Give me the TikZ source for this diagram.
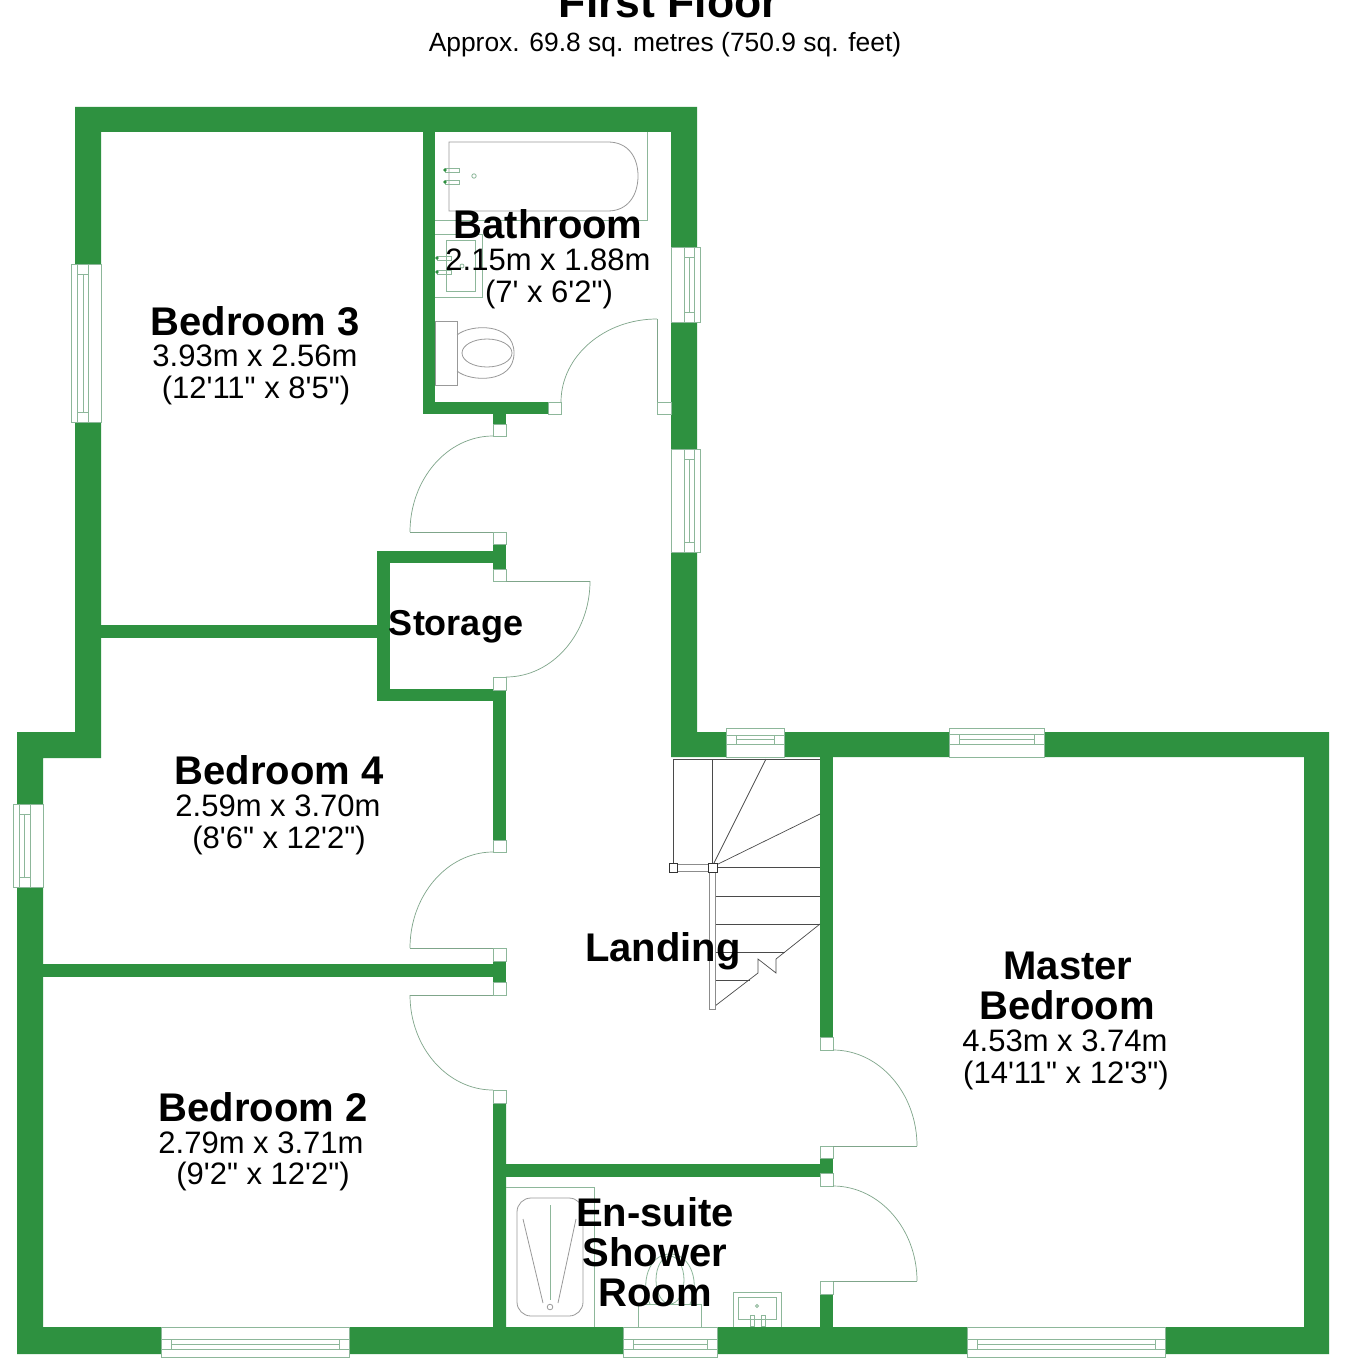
\documentclass[tikz,border=0pt]{standalone}
\usepackage{fontspec}
\usetikzlibrary{calc}
\newfontfamily\fpfont{Liberation Sans}
\definecolor{wallgreen}{HTML}{2E9140}
\definecolor{fixline}{HTML}{8DB79A}
\definecolor{doorline}{HTML}{7FA58A}
\definecolor{stairline}{HTML}{4A4A4A}
\tikzset{
  wall/.style={fill=wallgreen,draw=none},
  fixture/.style={draw=fixline,line width=0.8pt,fill=none},
  framebox/.style={draw=fixline,line width=0.8pt,fill=white},
  doorleaf/.style={draw=doorline,line width=0.7pt},
  stair/.style={draw=stairline,line width=0.7pt},
  rname/.style={font=\fpfont\bfseries\fontsize{40}{40}\selectfont,anchor=base,inner sep=0pt,text=black},
  rdim/.style={font=\fpfont\fontsize{31}{31}\selectfont,anchor=base,inner sep=0pt,text=black}
}
\newcommand{\qarc}[3]{% quarter arc start, corner, end
  \draw[doorleaf] (#1) .. controls ($(#1)!.55!(#2)$) and ($(#3)!.55!(#2)$) .. (#3);
}
% vertical window: x1 x2 y1 y2 line1 mid line2
\newcommand{\winV}[7]{%
  \draw[framebox] (#1,#3) rectangle (#2,#4);
  \draw[fixture] (#5,#3) -- (#5,#4) (#7,#3) -- (#7,#4)
    (#6,#3+10) -- (#6,#4-10) (#5,#3+10) -- (#7,#3+10) (#5,#4-10) -- (#7,#4-10);
}
% horizontal window: x1 x2 y1 y2 line1 mid line2
\newcommand{\winH}[7]{%
  \draw[framebox] (#1,#3) rectangle (#2,#4);
  \draw[fixture] (#1,#5) -- (#2,#5) (#1,#7) -- (#2,#7)
    (#1+10,#6) -- (#2-10,#6) (#1+10,#5) -- (#1+10,#7) (#2-10,#5) -- (#2-10,#7);
}
\begin{document}
\begin{tikzpicture}[x=1pt,y=-1pt]
\useasboundingbox (0,0) rectangle (1344,1362);
\fill[white] (0,0) rectangle (1344,1362);

% ---- walls
\fill[wall] (75,107) -- (697,107) -- (697,732) -- (1329,732) -- (1329,1354) -- (17,1354) -- (17,732) -- (75,732) -- cycle
  (101,132) -- (101,758) -- (43,758) -- (43,1327) -- (493,1327) -- (493,1103) -- (506,1103) -- (506,1327) -- (820,1327) -- (833,1327) -- (1304,1327) -- (1304,757) -- (671,757) -- (671,132) -- cycle;
\fill[wall] (423,132) rectangle (435,414);
\fill[wall] (423,402) rectangle (548,414);
\fill[wall] (493,414) rectangle (506,424);
\fill[wall] (101,625) rectangle (378,638);
\fill[wall] (377,551) rectangle (390,701);
\fill[wall] (377,551) rectangle (493,563);
\fill[wall] (493,544) rectangle (506,569);
\fill[wall] (377,689) rectangle (506,701);
\fill[wall] (493,690) rectangle (506,840);
\fill[wall] (43,964) rectangle (493,977);
\fill[wall] (493,961) rectangle (506,982);
\fill[wall] (493,1103) rectangle (506,1327);
\fill[wall] (820,757) rectangle (833,1037);
\fill[wall] (506,1164) rectangle (820,1177);
\fill[wall] (820,1158) rectangle (833,1173);
\fill[wall] (820,1294) rectangle (833,1327);

% ---- door frames
\draw[framebox] (548,402) rectangle (561,414);
\draw[framebox] (657,402) rectangle (671,414);
\draw[framebox] (493,424) rectangle (506,436);
\draw[framebox] (493,532) rectangle (506,544);
\draw[framebox] (493,569) rectangle (506,581);
\draw[framebox] (493,677) rectangle (506,690);
\draw[framebox] (493,840) rectangle (506,852);
\draw[framebox] (493,948) rectangle (506,961);
\draw[framebox] (493,982) rectangle (506,995);
\draw[framebox] (493,1090) rectangle (506,1103);
\draw[framebox] (820,1037) rectangle (833,1050);
\draw[framebox] (820,1146) rectangle (833,1158);
\draw[framebox] (820,1173) rectangle (833,1186);
\draw[framebox] (820,1281) rectangle (833,1294);

% ---- door leaves
\coordinate (dAa) at (561,402); \coordinate (dAc) at (561,319); \coordinate (dAb) at (657,319);
\qarc{dAa}{dAc}{dAb}
\draw[doorleaf] (dAb) -- (657,402);
\coordinate (dBa) at (493,436); \coordinate (dBc) at (410,436); \coordinate (dBb) at (410,532);
\qarc{dBa}{dBc}{dBb}
\draw[doorleaf] (dBb) -- (493,532);
\coordinate (dCa) at (590,581); \coordinate (dCc) at (590,677); \coordinate (dCb) at (506,677);
\qarc{dCa}{dCc}{dCb}
\draw[doorleaf] (dCa) -- (506,581);
\coordinate (dDa) at (493,852); \coordinate (dDc) at (410,852); \coordinate (dDb) at (410,948);
\qarc{dDa}{dDc}{dDb}
\draw[doorleaf] (dDb) -- (493,948);
\coordinate (dEa) at (410,995); \coordinate (dEc) at (410,1090); \coordinate (dEb) at (493,1090);
\qarc{dEa}{dEc}{dEb}
\draw[doorleaf] (dEa) -- (493,995);
\coordinate (dFa) at (833,1050); \coordinate (dFc) at (917,1050); \coordinate (dFb) at (917,1146);
\qarc{dFa}{dFc}{dFb}
\draw[doorleaf] (dFb) -- (833,1146);
\coordinate (dGa) at (833,1186); \coordinate (dGc) at (917,1186); \coordinate (dGb) at (917,1281);
\qarc{dGa}{dGc}{dGb}
\draw[doorleaf] (dGb) -- (833,1281);

% ---- windows
\winV{71}{101}{264}{422}{77}{83}{88}
\winV{13}{43}{804}{887}{19}{24}{30}
\winV{671}{700}{247}{322}{684}{689}{694}
\winV{671}{700}{449}{552}{684}{689}{694}
\winH{726}{784}{728}{757}{735}{739}{744}
\winH{949}{1044}{728}{757}{734}{739}{744}
\winH{161}{349}{1327}{1357}{1339}{1344}{1349}
\winH{623}{717}{1327}{1357}{1339}{1344}{1349}
\winH{967}{1165}{1327}{1357}{1339}{1344}{1349}

% ---- stairs
\draw[stair] (673,759) -- (820,759);
\draw[stair] (673,759) -- (673,864);
\draw[stair] (712,759) -- (712,863);
\draw[stair] (712,867) -- (766,759);
\draw[stair] (712,867) -- (820,814);
\draw[stair] (716,867) -- (820,867);
\draw[stair] (715,896) -- (820,896);
\draw[stair] (715,924) -- (820,924);
\draw[stair] (715,952) -- (785,952);
\draw[stair] (715,980) -- (750,980);
\draw[stair] (715,1006) -- (758,973) -- (758,959) -- (776,973) -- (776,959) -- (820,924);
\draw[draw=black!45,line width=0.8pt,fill=white] (709,871) rectangle (715,1009);
\draw[draw=black!45,line width=0.8pt,fill=white] (677,864) rectangle (708,871);
\draw[draw=black!80,line width=0.8pt,fill=white] (669,863) rectangle (677,872);
\draw[draw=black!80,line width=0.8pt,fill=white] (708,863) rectangle (717,872);

% ---- bathroom fittings
\draw[fixture] (435,220) -- (647,220) -- (647,132);
\draw[fixture,draw=black!40] (608,142) -- (449,142) -- (449,211) -- (608,211) .. controls (628,211) and (638,195) .. (638,176) .. controls (638,157) and (628,142) .. (608,142);
\draw[fixture] (445,168) rectangle (459,172) (445,180) rectangle (459,184);
\fill[wallgreen] (445,170) circle[radius=1.8] (445,182) circle[radius=1.8];
\draw[fixture] (474,176) circle[radius=2.2];
\draw[fixture] (435,234) -- (482,234) -- (482,297) -- (435,297);
\draw[fixture] (446,240) rectangle (475,291);
\draw[fixture] (437,256) rectangle (451,260) (437,270) rectangle (451,274);
\fill[wallgreen] (437,258) circle[radius=1.8] (437,272) circle[radius=1.8];
\draw[fixture] (462,266) circle[radius=2];
\draw[fixture,draw=black!40] (435,321) rectangle (457,385);
\draw[fixture,draw=black!40] (457,335) .. controls (470,324) and (514,322) .. (514,353) .. controls (514,384) and (470,382) .. (457,371);
\draw[fixture,draw=black!40] (487,353) ellipse[x radius=25,y radius=14];

% ---- en-suite fittings
\draw[fixture] (506,1187) -- (594,1187) -- (594,1327);
\draw[fixture,draw=black!40,rounded corners=14] (517,1198) rectangle (583,1316);
\draw[fixture,draw=black!40] (523,1219) -- (543,1303) (576,1219) -- (558,1303);
\draw[fixture] (550,1205) -- (550,1300);
\draw[fixture,draw=black!40] (550,1307) circle[radius=2.8];
\draw[fixture] (638,1327) -- (638,1304) -- (701,1304) -- (701,1327);
\draw[fixture] (670,1280) ellipse[x radius=14,y radius=24];
\draw[fixture] (650,1304) .. controls (640,1285) and (648,1254) .. (670,1254) .. controls (692,1254) and (700,1285) .. (690,1304);
\draw[fixture] (733,1327) -- (733,1292) -- (781,1292) -- (781,1327);
\draw[fixture] (738,1297) rectangle (776,1319);
\draw[fixture] (757,1306) circle[radius=1.5];
\draw[fixture] (750,1315) rectangle (754,1326) (761,1315) rectangle (765,1326);

% ---- labels
\node[rname,font=\fpfont\bfseries\fontsize{44.5}{44.5}\selectfont] (title) at (669,18) {First Floor};
\node[rdim,font=\fpfont\fontsize{26.4}{27}\selectfont] (approx) at (665,52) {Approx. 69.8 sq. metres (750.9 sq. feet)};
\node[rname] (b3a) at (255,335) {Bedroom 3};
\node[rdim] (b3b) at (255,366) {3.93m x 2.56m};
\node[rdim] (b3c) at (256,398) {(12'11" x 8'5")};
\node[rname] (ba) at (548,238) {Bathroom};
\node[rdim] (bb) at (548,270) {2.15m x 1.88m};
\node[rdim] (bc) at (549,302) {(7' x 6'2")};
\node[rname,font=\fpfont\bfseries\fontsize{36}{36}\selectfont] (st) at (456,635) {Storage};
\node[rname] (b4a) at (279,784) {Bedroom 4};
\node[rdim] (b4b) at (278,816) {2.59m x 3.70m};
\node[rdim] (b4c) at (279,848) {(8'6" x 12'2")};
\node[rname] (la) at (663,961) {Landing};
\node[rname] (ma) at (1068,979) {Master};
\node[rname] (mb) at (1067,1019) {Bedroom};
\node[rdim] (mc) at (1065,1051) {4.53m x 3.74m};
\node[rdim] (md) at (1066,1083) {(14'11" x 12'3")};
\node[rname] (b2a) at (263,1121) {Bedroom 2};
\node[rdim] (b2b) at (261,1153) {2.79m x 3.71m};
\node[rdim] (b2c) at (263,1184) {(9'2" x 12'2")};
\node[rname] (ea) at (655,1226) {En-suite};
\node[rname] (eb) at (655,1266) {Shower};
\node[rname] (ec) at (655,1306) {Room};
\end{tikzpicture}
\end{document}
